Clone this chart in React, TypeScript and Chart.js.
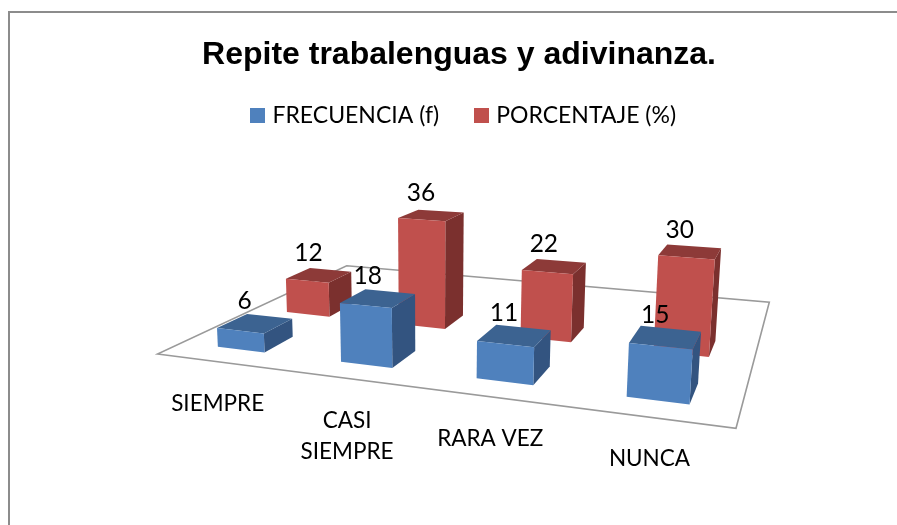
import React, { useEffect, useRef } from "react";
import { Chart, registerables } from "chart.js";

Chart.register(...registerables);

const categories = ["SIEMPRE", ["CASI", "SIEMPRE"], "RARA VEZ", "NUNCA"];
const frecuencia = [6, 18, 11, 15];
const porcentaje = [12, 36, 22, 30];

const BLUE = { front: "#4F81BD", top: "#3C6391", side: "#335480" };
const RED = { front: "#C0504D", top: "#8D3A38", side: "#7B302E" };
const shades = [BLUE, RED];

// Floor corners on the page and the camera terms for the vertical axis
const FL = [157.5, 354], FR = [736, 428.3], BL = [346.7, 265.7], BR = [769.3, 302.3];
const Vp = -0.2924, Vq = -3.4, Vr = -0.00068;
const ROWS = 3;
const ROW_DEPTH = 0.135;
const TEXT_FONT = "Lato";
const LEGEND_SHIFT_X = 6;
const LEGEND_SHIFT_Y = -2;
const SWATCH = 15;

function makeProjection() {
  const dx1 = FR[0] - BR[0], dx2 = BL[0] - BR[0], sx = FL[0] - FR[0] + BR[0] - BL[0];
  const dy1 = FR[1] - BR[1], dy2 = BL[1] - BR[1], sy = FL[1] - FR[1] + BR[1] - BL[1];
  const det = dx1 * dy2 - dx2 * dy1;
  const g = (sx * dy2 - dx2 * sy) / det;
  const h = (dx1 * sy - sx * dy1) / det;
  const a = FR[0] - FL[0] + g * FR[0], b = BL[0] - FL[0] + h * BL[0], c = FL[0];
  const d = FR[1] - FL[1] + g * FR[1], e = BL[1] - FL[1] + h * BL[1], f = FL[1];
  return (u: number, v: number, z: number): [number, number] => {
    const w = g * u + h * v + 1 + Vr * z;
    return [(a * u + b * v + c + Vp * z) / w, (d * u + e * v + f + Vq * z) / w];
  };
}

function poly(ctx: CanvasRenderingContext2D, pts: [number, number][], fill: string) {
  ctx.beginPath();
  pts.forEach((p, i) => (i ? ctx.lineTo(p[0], p[1]) : ctx.moveTo(p[0], p[1])));
  ctx.closePath();
  ctx.fillStyle = fill;
  ctx.fill();
}

function swatch(color: string) {
  const c = document.createElement("canvas");
  c.width = SWATCH;
  c.height = SWATCH;
  const x = c.getContext("2d")!;
  x.fillStyle = color;
  x.fillRect(0, 0, SWATCH, SWATCH);
  return c;
}

const perspectivePlugin = {
  id: "perspective",
  afterLayout(chart: any) {
    chart.legend.left += LEGEND_SHIFT_X;
    chart.legend.right += LEGEND_SHIFT_X;
    chart.legend.top += LEGEND_SHIFT_Y;
    chart.legend.bottom += LEGEND_SHIFT_Y;
  },
  beforeDatasetsDraw(chart: any) {
    const ctx: CanvasRenderingContext2D = chart.ctx;
    const P = makeProjection();
    const area = chart.chartArea;
    const xs = chart.scales.x;
    const ys = chart.scales.y;

    ctx.save();
    ctx.beginPath();
    ctx.moveTo(FL[0], FL[1]);
    ctx.lineTo(FR[0], FR[1]);
    ctx.lineTo(BR[0], BR[1]);
    ctx.lineTo(BL[0], BL[1]);
    ctx.closePath();
    ctx.strokeStyle = "#9A9A9A";
    ctx.lineWidth = 1.6;
    ctx.stroke();

    const labels: { text: string; x: number; y: number }[] = [];
    for (let row = chart.data.datasets.length - 1; row >= 0; row--) {
      const meta = chart.getDatasetMeta(row);
      const vc = (row + 0.5) / ROWS;
      const v0 = vc - ROW_DEPTH / 2, v1 = vc + ROW_DEPTH / 2;
      meta.data.forEach((el: any, i: number) => {
        const u0 = (el.x - el.width / 2 - area.left) / area.width;
        const u1 = (el.x + el.width / 2 - area.left) / area.width;
        const z = ys.getValueForPixel(el.y);
        const c = shades[row];
        poly(ctx, [P(u1, v0, 0), P(u1, v1, 0), P(u1, v1, z), P(u1, v0, z)], c.side);
        poly(ctx, [P(u0, v0, z), P(u1, v0, z), P(u1, v1, z), P(u0, v1, z)], c.top);
        poly(ctx, [P(u0, v0, 0), P(u1, v0, 0), P(u1, v0, z), P(u0, v0, z)], c.front);
        const t = P((u0 + u1) / 2, vc, z);
        labels.push({ text: String(chart.data.datasets[row].data[i]), x: t[0] - 10.5, y: t[1] - 22 });
      });
    }

    ctx.fillStyle = "#000";
    ctx.textAlign = "center";
    ctx.textBaseline = "middle";
    ctx.font = `24.5px ${TEXT_FONT}`;
    labels.forEach((l) => ctx.fillText(l.text, l.x, l.y));

    ctx.font = `22.5px ${TEXT_FONT}`;
    chart.data.labels.forEach((lab: string | string[], i: number) => {
      const u = (xs.getPixelForValue(i) - area.left) / area.width;
      const base = P(u, 0, 0);
      const lines = Array.isArray(lab) ? lab : [lab];
      lines.forEach((line, k) => ctx.fillText(line, base[0], base[1] + 42 + k * 31));
    });
    ctx.restore();
    return false;
  },
};

export default function App() {
  const ref = useRef<HTMLCanvasElement>(null);
  useEffect(() => {
    const chart = new Chart(ref.current!, {
      type: "bar",
      data: {
        labels: categories as any,
        datasets: [
          { label: "FRECUENCIA (f)", data: frecuencia, backgroundColor: BLUE.front },
          { label: "PORCENTAJE (%)", data: porcentaje, backgroundColor: RED.front },
        ],
      },
      options: {
        responsive: false,
        animation: false,
        layout: { padding: { left: 21, top: 42, right: 0, bottom: 0 } },
        datasets: { bar: { grouped: false, categoryPercentage: 0.39, barPercentage: 1 } },
        scales: {
          x: { display: false, offset: true },
          y: { display: false, min: 0, max: 40 },
        },
        plugins: {
          tooltip: { enabled: false },
          title: {
            display: true,
            text: "Repite trabalenguas y adivinanza.",
            color: "#000",
            font: { family: "'Liberation Sans'", size: 32, weight: "bold", lineHeight: 0.8 },
            padding: { top: 0, bottom: 0 },
          },
          legend: {
            display: true,
            position: "top",
            labels: {
              color: "#000",
              usePointStyle: true,
              pointStyleWidth: 7,
              boxHeight: SWATCH,
              padding: 38.5,
              font: { family: TEXT_FONT, size: 23 },
              generateLabels(c: any) {
                return Chart.defaults.plugins.legend.labels.generateLabels(c).map((item: any, i: number) => ({
                  ...item,
                  pointStyle: swatch(shades[i].front),
                }));
              },
            },
          },
        },
      },
      plugins: [perspectivePlugin],
    } as any);
    return () => chart.destroy();
  }, []);
  return (
    <div style={{ position: "fixed", left: 0, top: 0, width: 897, height: 525, overflow: "hidden", background: "#fff" }}>
      <div style={{ position: "absolute", left: 8, top: 11, right: 0, bottom: 0, borderLeft: "2px solid #8C8C8C", borderTop: "2px solid #8C8C8C" }} />
      <canvas ref={ref} width={897} height={525} style={{ position: "absolute", left: 0, top: 0, display: "block" }} />
    </div>
  );
}
